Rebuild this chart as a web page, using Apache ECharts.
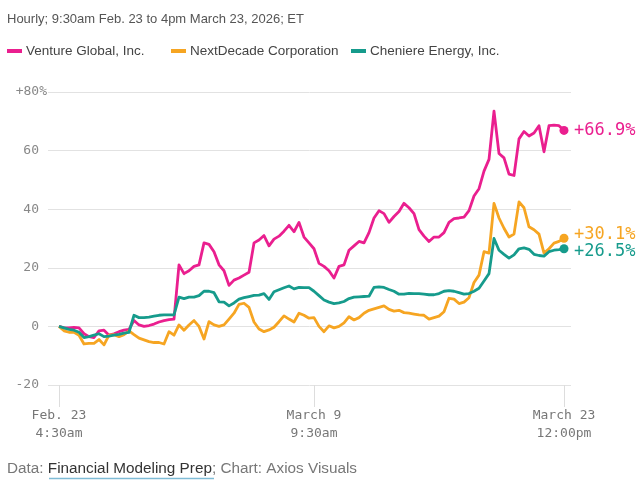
<!DOCTYPE html>
<html>
<head>
<meta charset="utf-8">
<script src="https://cdn.jsdelivr.net/npm/echarts@6/dist/echarts.min.js"></script>
<style>
html,body{margin:0;padding:0;background:#fff;}
#chart{width:644px;height:481px;}
</style>
</head>
<body>
<div id="chart"></div>
<script>
const seriesNames = ['Venture Global, Inc.', 'NextDecade Corporation', 'Cheniere Energy, Inc.'];
const seriesColors = ['#ea1f8f', '#f6a522', '#169b8c'];

const ventureGlobal = [0,-0.5,-0.5,-0.3,-0.5,-2.5,-3.5,-3.8,-1.5,-1.3,-3,-2.5,-1.8,-1.3,-1,2,0.5,0,0.3,0.8,1.5,2,2.3,2.5,21,18,19,20.5,21,28.5,28,25.5,21,19,14,15.8,16.5,17.5,18.5,28.5,29.5,31,27.5,29.8,30.8,32.5,34.5,32.3,35.5,30.5,28.5,26.5,21.5,20.5,19,16.5,20.5,21,26,27.5,29,28.5,32,37,39.5,38.5,35.5,37.5,39.2,42,40.5,38.5,33,30.8,29,30.5,30.5,32,35.5,36.8,37,37.3,39.5,44.5,47,53,57,73.5,59,57.5,52,51.5,64,66.5,65,66,68.5,59.6,68.5,68.7,68.5,66.9];

const nextDecade = [0,-1.5,-2,-2,-3,-6,-5.8,-5.8,-4.5,-6.3,-3,-2.8,-3.5,-2.8,-1.5,-2.8,-4,-4.6,-5.2,-5.5,-5.5,-6,-1.8,-3,0.5,-1.3,0.5,2,0,-4.3,1.6,0.5,0,0.5,2.5,4.5,7.5,7.9,6.5,1.5,-0.9,-1.8,-1.2,-0.3,1.6,3.6,2.5,1.5,4.5,3.8,2.8,3,0,-1.8,0.2,-0.5,0,1.2,3.3,2.2,3,4.5,5.5,6,6.5,7,5.8,5.2,5.5,4.7,4.5,4.2,3.9,3.8,2.5,3,3.5,5,9.6,9.3,7.8,8.3,9.8,15,17.5,25.5,25,42,37,33.5,30.5,31.5,42.5,40.5,34,33,31.5,25,26.5,28.4,29,30.1];

const cheniere = [0,-0.5,-1,-1.3,-2,-3.8,-3.5,-3,-2.5,-3.5,-3.3,-3,-2.7,-2.3,-2,3.8,3,3,3.2,3.5,3.8,3.9,3.9,3.9,10,9.5,10,10,10.5,12,12,11.5,8.4,8.3,7,8,9.3,9.8,10.2,10.6,10.7,11.2,9.2,11.8,12.5,13.2,13.8,12.8,13.3,13.2,13.2,12,10.5,9,8.3,7.8,8,8.5,9.5,10,10.1,10.2,10.3,13.3,13.5,13.3,12.6,12,11,11,11.3,11.2,11.2,11,10.8,10.8,11.2,12,12.2,12,11.5,11,11.2,12,13,15.5,18,30,26,24.6,23.3,24.4,26.5,26.8,26.3,24.6,24.2,24,25.5,26,26.2,26.5];

const xTickIndex = [0, 51, 101];
const xTickLabels = ['Feb. 23\n4:30am', 'March 9\n9:30am', 'March 23\n12:00pm'];
const yTickValues = [-20, 0, 20, 40, 60, 80];

const allSeries = [ventureGlobal, nextDecade, cheniere];
const endOffsets = [[0, 0], [0, -4], [0, 3]];
const legendLefts = [2, 166, 346];
const mono = '"DejaVu Sans Mono", "Liberation Mono", monospace';
const sans = '"Liberation Sans", Arial, sans-serif';

const chart = echarts.init(document.getElementById('chart'), null, {renderer: 'canvas'});

const series = allSeries.map((arr, k) => {
  const last = arr.length - 1;
  return {
    name: seriesNames[k],
    type: 'line',
    data: arr.map((v, i) => [i, v]),
    smooth: false,
    symbol: 'circle',
    showSymbol: true,
    showAllSymbol: true,
    symbolSize: (val, p) => (p.dataIndex === last ? 9 : 0),
    itemStyle: {color: seriesColors[k]},
    lineStyle: {width: 2.8, color: seriesColors[k], join: 'round'},
    emphasis: {disabled: true},
    animation: false,
    endLabel: {
      show: true,
      distance: 10,
      offset: endOffsets[k],
      formatter: () => '+' + arr[last].toFixed(1) + '%',
      color: seriesColors[k],
      fontFamily: mono,
      fontSize: 17
    }
  };
});

const legends = seriesNames.map((name, k) => ({
  left: legendLefts[k],
  top: 39,
  icon: 'rect',
  itemWidth: 15,
  itemHeight: 4,
  data: [name],
  selectedMode: false,
  textStyle: {fontFamily: sans, fontSize: 13.5, color: '#444', padding: [0, 0, 0, -1]}
}));

chart.setOption({
  animation: false,
  color: seriesColors,
  title: {
    text: 'Hourly; 9:30am Feb. 23 to 4pm March 23, 2026; ET',
    left: 2,
    top: 8,
    textStyle: {fontFamily: sans, fontSize: 13, fontWeight: 'normal', color: '#555'}
  },
  legend: legends,
  grid: {left: 48, right: 73, top: 92, bottom: 96, containLabel: false},
  xAxis: {
    type: 'value',
    min: -2.2,
    max: 102.4,
    axisLine: {show: false, onZero: false},
    splitLine: {show: false},
    axisTick: {show: true, customValues: xTickIndex, length: 22, lineStyle: {color: '#ddd', width: 1}},
    axisLabel: {
      customValues: xTickIndex,
      formatter: (v) => xTickLabels[xTickIndex.indexOf(Math.round(v))] || '',
      margin: 22,
      color: '#777',
      fontFamily: mono,
      fontSize: 13,
      lineHeight: 18,
      align: 'center'
    }
  },
  yAxis: {
    type: 'value',
    min: -20,
    max: 80,
    interval: 20,
    axisLine: {show: false},
    axisTick: {show: false},
    splitLine: {lineStyle: {color: '#e2e2e2', width: 1}},
    axisLabel: {
      margin: 1,
      color: '#888',
      fontFamily: mono,
      fontSize: 13,
      align: 'right',
      formatter: (v) => (v === yTickValues[yTickValues.length - 1] ? '+' + v + '%' : v + '{s| }'),
      rich: {s: {width: 8, fontFamily: mono, fontSize: 13}}
    }
  },
  graphic: [
    {
      type: 'text',
      left: 7,
      top: 461,
      style: {
        text: '{a|Data: }{b|Financial Modeling Prep}{a|; Chart: Axios Visuals}',
        rich: {
          a: {fontFamily: sans, fontSize: 15.3, fill: '#777'},
          b: {fontFamily: sans, fontSize: 15.3, fill: '#333'}
        }
      }
    },
    {
      type: 'line',
      shape: {x1: 49, y1: 478.5, x2: 214, y2: 478.5},
      style: {stroke: '#7fbcd6', lineWidth: 1.5}
    }
  ],
  series: series
});
</script>
</body>
</html>
